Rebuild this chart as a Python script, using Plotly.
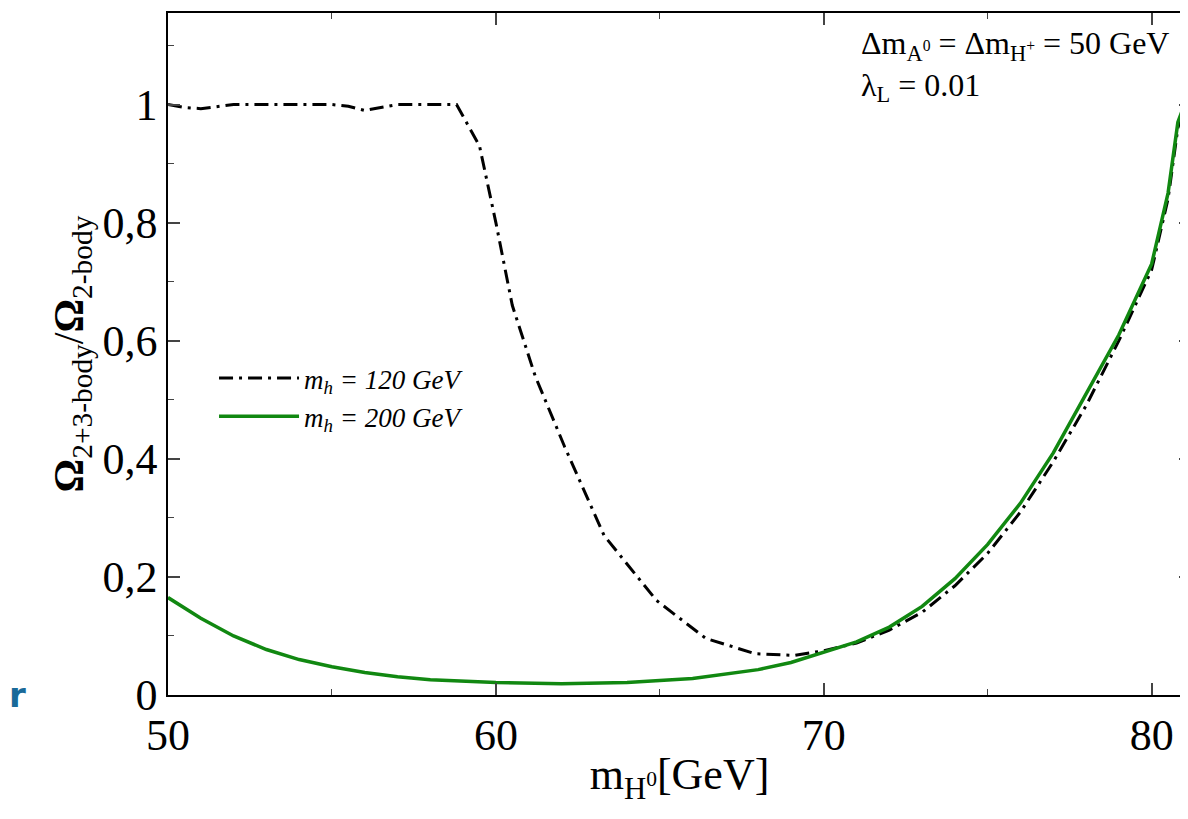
import plotly.graph_objects as go

# m_h = 120 GeV (dash-dot)
x_120 = [50, 50.5, 51, 52, 53, 54, 55, 55.5, 56, 57, 58, 58.8, 59.5, 60, 60.5, 61.2, 62.1, 63.3, 64.9,
         66.4, 67.9, 69.1, 70, 71, 72, 73, 74, 75, 76, 77, 78, 79, 80, 80.5, 80.8, 81, 81.2]
y_120 = [1.0, 0.995, 0.993, 1.0, 1.0, 1.0, 1.0, 0.997, 0.99, 1.0, 1.0, 1.0, 0.93, 0.8, 0.66, 0.54, 0.42, 0.27, 0.16,
         0.096, 0.07, 0.067, 0.075, 0.088, 0.11, 0.14, 0.185, 0.24, 0.31, 0.395, 0.49, 0.6, 0.72, 0.84, 0.96, 1.0, 1.0]
# m_h = 200 GeV (solid green)
x_200 = [50, 51, 52, 53, 54, 55, 56, 57, 58, 60, 62, 64, 66, 68, 69, 70, 71, 72, 73, 74, 75, 76, 77, 78,
         79, 80, 80.5, 80.8, 81, 81.2]
y_200 = [0.165, 0.13, 0.1, 0.077, 0.06, 0.048, 0.038, 0.031, 0.026, 0.021, 0.019, 0.021, 0.028, 0.043, 0.055,
         0.072, 0.09, 0.115, 0.15, 0.197, 0.255, 0.325, 0.41, 0.51, 0.61, 0.73, 0.85, 0.97, 1.0, 1.0]

x_ticks = [50, 60, 70, 80]
y_ticks = [0, 0.2, 0.4, 0.6, 0.8, 1]
y_labels = ["0", "0,2", "0,4", "0,6", "0,8", "1"]

font = "Liberation Serif"
fig = go.Figure()
fig.add_trace(go.Scatter(x=x_120, y=y_120, mode="lines", name="<i>m<sub>h</sub> = 120 GeV</i>",
                         line=dict(color="black", width=3, dash="14px,6px,3px,6px")))
fig.add_trace(go.Scatter(x=x_200, y=y_200, mode="lines", name="<i>m<sub>h</sub> = 200 GeV</i>",
                         line=dict(color="#118811", width=3.5)))

axis = dict(showgrid=False, zeroline=False, showline=True, linecolor="black", linewidth=1.5,
            mirror="ticks", ticks="inside", ticklen=12, tickwidth=1.5,
            tickfont=dict(family=font, size=44, color="black"))
fig.update_xaxes(**axis, range=[50, 81.2], tickvals=x_ticks,
                 minor=dict(ticks="inside", ticklen=6, dtick=5, tickwidth=1.2),
                 title=dict(text="m<sub>H<sup>0</sup></sub>[GeV]", font=dict(family=font, size=44), standoff=0))
fig.update_yaxes(**axis, range=[0, 1.155], tickvals=y_ticks, ticktext=y_labels,
                 minor=dict(ticks="inside", ticklen=6, dtick=0.1, tickwidth=1.2),
                 title=dict(text="<b>Ω</b><sub>2+3-body</sub>/<b>Ω</b><sub>2-body</sub>",
                            font=dict(family=font, size=42), standoff=6))
fig.update_layout(width=1188, height=819, plot_bgcolor="white", paper_bgcolor="white",
                  margin=dict(l=160, r=3, t=5, b=132),
                  font=dict(family=font, color="black"),
                  showlegend=True,
                  legend=dict(x=0.045, y=0.5, xanchor="left", yanchor="top", bgcolor="rgba(0,0,0,0)",
                              font=dict(family=font, size=27), itemwidth=80))
fig.add_annotation(x=0.98, y=0.985, xref="paper", yref="paper", xanchor="right", yanchor="top",
                   showarrow=False, align="left",
                   text="Δm<sub>A<sup>0</sup></sub> = Δm<sub>H<sup>+</sup></sub> = 50 GeV<br>λ<sub>L</sub> = 0.01",
                   font=dict(family=font, size=32))
fig.add_annotation(x=-0.157, y=0.0, xref="paper", yref="paper", xanchor="left", yanchor="middle",
                   showarrow=False, text="<b>r</b>", font=dict(family="DejaVu Sans", size=34, color="#1a6a99"))
fig.write_html("out.html")
